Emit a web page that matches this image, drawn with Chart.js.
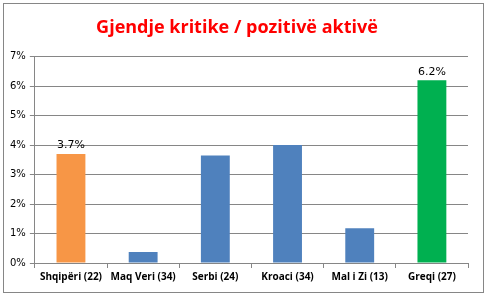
<!DOCTYPE html>
<html lang="en">
<head>
  <meta charset="UTF-8">
  <title>Gjendje kritike / pozitivë aktivë</title>
  <style>
    html, body { margin: 0; padding: 0; background: #fff; }
    #wrap { width: 487px; height: 296px; position: relative; }
  </style>
  <script src="https://cdn.jsdelivr.net/npm/chart.js@4.4.4/dist/chart.umd.js"></script>
</head>
<body>
  <div id="wrap"><canvas id="chart_1"></canvas></div>
<script>
  const countries = ['Shqipëri (22)', 'Maq Veri (34)', 'Serbi (24)', 'Kroaci (34)', 'Mal i Zi (13)', 'Greqi (27)'];
  const percentages = [3.7, 0.37, 3.65, 4.0, 1.18, 6.2];
  const barColors = ['#F79646', '#4F81BD', '#4F81BD', '#4F81BD', '#4F81BD', '#00B050'];
  const labelled = [0, 5];

  // outer frame + value labels on the first and last bars
  const frame = {
    id: 'frame',
    beforeDraw(chart) {
      const c = chart.ctx;
      c.save();
      c.fillStyle = '#fff';
      c.fillRect(0, 0, chart.width, chart.height);
      c.strokeStyle = '#868686';
      c.lineWidth = 1;
      c.strokeRect(3.5, 3.5, 480, 289);
      c.restore();
    },
    afterDatasetsDraw(chart) {
      const c = chart.ctx;
      const meta = chart.getDatasetMeta(0);
      c.save();
      c.font = '11px "DejaVu Sans"';
      c.fillStyle = '#000';
      c.textAlign = 'center';
      c.textBaseline = 'bottom';
      labelled.forEach(i => {
        const bar = meta.data[i];
        c.fillText(percentages[i].toFixed(1) + '%', bar.x, bar.y - 3);
      });
      c.restore();
    }
  };

  new Chart('chart_1', {
    type: 'bar',
    data: {
      labels: countries,
      datasets: [{
        data: percentages,
        backgroundColor: barColors,
        barPercentage: 0.8,
        categoryPercentage: 0.5
      }]
    },
    options: {
      responsive: true,
      maintainAspectRatio: false,
      animation: false,
      layout: { padding: { left: 6, right: 19, top: 17, bottom: 10 } },
      plugins: {
        legend: { display: false },
        tooltip: { enabled: false },
        title: {
          display: true,
          text: 'Gjendje kritike / pozitivë aktivë',
          color: '#FF0000',
          font: { family: '"Open Sans"', size: 18, weight: 'bold' },
          padding: { top: 0, bottom: 18 }
        }
      },
      scales: {
        x: {
          grid: { offset: true, drawOnChartArea: false, color: '#868686', tickLength: 5 },
          border: { color: '#868686' },
          ticks: { color: '#000', font: { family: '"Open Sans"', size: 10, weight: 'bold' }, maxRotation: 0 }
        },
        y: {
          min: 0,
          max: 7,
          ticks: {
            stepSize: 1,
            color: '#000',
            font: { family: '"DejaVu Sans"', size: 10 },
            callback: v => v + '%',
            padding: 4
          },
          grid: { color: '#868686', tickLength: 5 },
          border: { color: '#868686' }
        }
      }
    },
    plugins: [frame]
  });
</script>
</body>
</html>
